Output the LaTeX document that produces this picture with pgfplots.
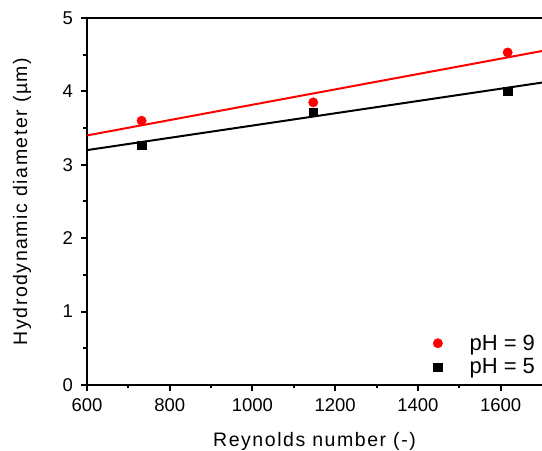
\documentclass[border=0pt]{standalone}
\usepackage{pgfplots}
\pgfplotsset{compat=1.18}
\usepackage{fontspec}
\setmainfont{Liberation Sans}
\newfontfamily\lblfont[LetterSpace=8]{Liberation Sans}

\begin{document}
\begin{tikzpicture}
    \begin{axis}[
        scale only axis,
        width=455bp,
        height=367bp,
        xmin=600, xmax=1700,
        ymin=0, ymax=5,
        axis lines=left,
        axis line style={line width=2.2bp, -},
        xtick={600,800,...,1600},
        ytick={0,1,...,5},
        minor x tick num=1,
        minor y tick num=1,
        tick align=outside,
        major tick length=6bp,
        minor tick length=3.5bp,
        tick style={line width=2bp, black},
        ticklabel style={font=\fontsize{18.5bp}{21bp}\selectfont},
        yticklabel style={xshift=-4.5bp},
        xticklabel style={yshift=-4.5bp},
        /pgf/number format/assume math mode=true,
        /pgf/number format/1000 sep={},
        xlabel={Reynolds number (-)},
        ylabel={Hydrodynamic diameter (\textmu m)},
        label style={font=\lblfont\fontsize{19.5bp}{22bp}\selectfont},
        xlabel style={at={(axis description cs:0.5,-0.1526)}, anchor=center},
        ylabel style={at={(axis description cs:-0.1429,0.5)}, anchor=center},
        legend style={draw=none, fill=none, at={(0.996,0.015)}, anchor=south east,
            font=\fontsize{22bp}{24bp}\selectfont, row sep=3bp, column sep=25bp},
        legend cell align=left,
        clip=false,
    ]
        \addplot[only marks, mark=*, red, mark size=4.7bp] coordinates {
            (732,3.60) (1147,3.85) (1617,4.53)};
        \addlegendentry{pH = 9}
        \addplot[only marks, mark=square*, black, mark size=4.2bp] coordinates {
            (732,3.27) (1147,3.72) (1617,4.00)};
        \addlegendentry{pH = 5}
        \addplot[red, line width=2bp, forget plot] coordinates {(600,3.40) (1700,4.55)};
        \addplot[black, line width=2bp, forget plot] coordinates {(600,3.20) (1700,4.12)};
        \draw[line width=2.2bp] (rel axis cs:0,1) -- (rel axis cs:1,1);
        \coordinate (bl) at (rel axis cs:0,0);
        \coordinate (tr) at (rel axis cs:1,1);
    \end{axis}
    \pgfresetboundingbox
    \path[use as bounding box] ([shift={(-87bp,-66bp)}]bl) rectangle ([shift={(0bp,18bp)}]tr);
\end{tikzpicture}
\end{document}
